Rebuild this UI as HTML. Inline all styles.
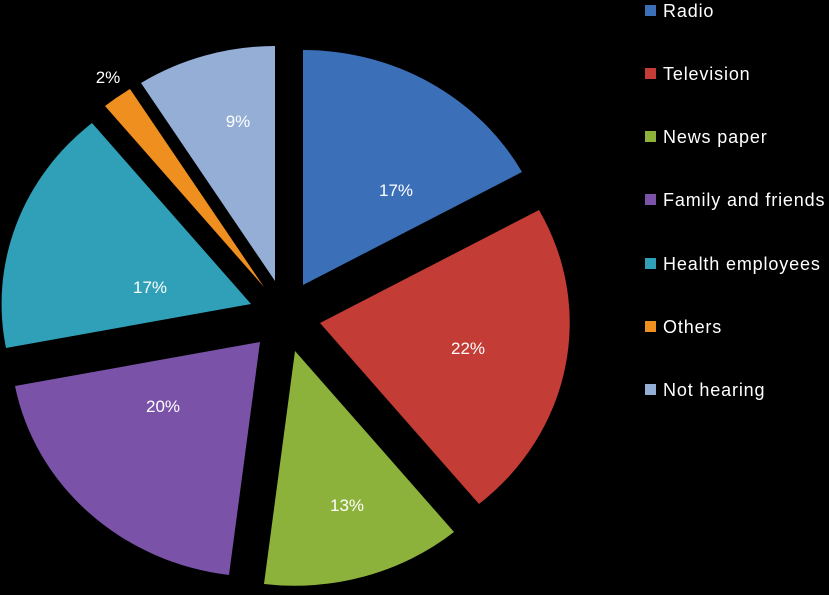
<!DOCTYPE html>
<html><head><meta charset="utf-8"><style>
html,body{margin:0;padding:0;background:#000;}
svg{display:block}
text{font-family:"Liberation Sans",sans-serif;fill:#fff}
</style></head><body>
<svg width="829" height="595" viewBox="0 0 829 595">
<rect width="829" height="595" fill="#000"/>
<g stroke="none">
<path d="M303,285 L303,50 A250,235 0 0 1 522,172 Z" fill="#3b70b9"/>
<path d="M320,323 L539,210 A250,235 0 0 1 479,504 Z" fill="#c33c35"/>
<path d="M295,351 L454,532 A250,235 0 0 1 264,584 Z" fill="#8cb23c"/>
<path d="M260,342 L229,575 A250,235 0 0 1 15,386 Z" fill="#7a52a7"/>
<path d="M251,304 L6,348 A250,235 0 0 1 92,123 Z" fill="#2fa0b7"/>
<path d="M264,287 L105,106 A250,235 0 0 1 130,89 Z" fill="#ef8f20"/>
<path d="M275,281 L141,83 A250,235 0 0 1 275,46 Z" fill="#94aed6"/>
</g>
<g font-size="17" text-anchor="middle">
<text x="396" y="196">17%</text>
<text x="468" y="354">22%</text>
<text x="347" y="511">13%</text>
<text x="163" y="412">20%</text>
<text x="150" y="293">17%</text>
<text x="108" y="83">2%</text>
<text x="238" y="127">9%</text>
</g>
<g font-size="18" letter-spacing="0.85">
<rect x="645" y="5" width="11" height="11" fill="#3b70b9"/><text x="663" y="17">Radio</text>
<rect x="645" y="68" width="11" height="11" fill="#c33c35"/><text x="663" y="80">Television</text>
<rect x="645" y="131" width="11" height="11" fill="#8cb23c"/><text x="663" y="143">News paper</text>
<rect x="645" y="194" width="11" height="11" fill="#7a52a7"/><text x="663" y="206">Family and friends</text>
<rect x="645" y="258" width="11" height="11" fill="#2fa0b7"/><text x="663" y="270">Health employees</text>
<rect x="645" y="321" width="11" height="11" fill="#ef8f20"/><text x="663" y="333">Others</text>
<rect x="645" y="384" width="11" height="11" fill="#94aed6"/><text x="663" y="396">Not hearing</text>
</g>
</svg>
</body></html>
